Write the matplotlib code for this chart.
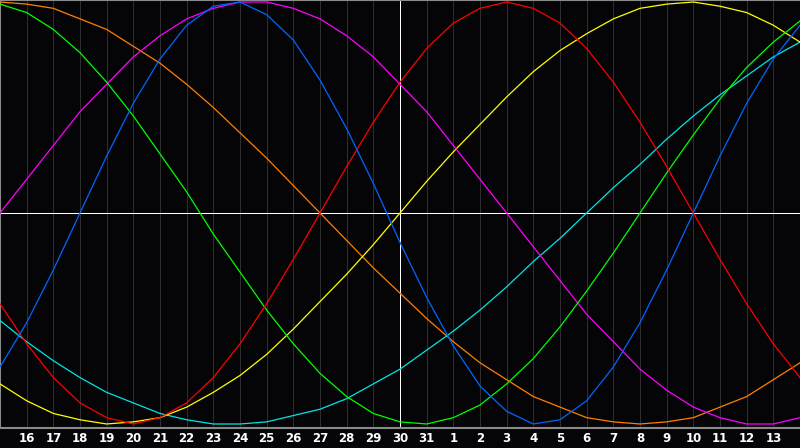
import matplotlib
matplotlib.use("Agg")
import matplotlib.pyplot as plt

# day labels along the bottom (day 30 sits in the middle)
days = [15, 16, 17, 18, 19, 20, 21, 22, 23, 24, 25, 26, 27, 28, 29, 30, 31,
        1, 2, 3, 4, 5, 6, 7, 8, 9, 10, 11, 12, 13, 14]

# daily values of each cycle (-1 .. 1)
blue = [-0.73, -0.52, -0.27, 0.0, 0.27, 0.52, 0.73, 0.89, 0.98, 1.0, 0.94,
        0.82, 0.63, 0.40, 0.14, -0.14, -0.40, -0.63, -0.82, -0.94, -1.0,
        -0.98, -0.89, -0.73, -0.52, -0.27, 0.0, 0.27, 0.52, 0.73, 0.89]
red = [-0.43, -0.62, -0.78, -0.90, -0.97, -1.0, -0.97, -0.90, -0.78, -0.62,
       -0.43, -0.22, 0.0, 0.22, 0.43, 0.62, 0.78, 0.90, 0.97, 1.0, 0.97,
       0.90, 0.78, 0.62, 0.43, 0.22, 0.0, -0.22, -0.43, -0.62, -0.78]
green = [0.99, 0.95, 0.87, 0.76, 0.62, 0.46, 0.28, 0.10, -0.10, -0.28, -0.46,
         -0.62, -0.76, -0.87, -0.95, -0.99, -1.0, -0.97, -0.91, -0.81, -0.69,
         -0.54, -0.37, -0.19, 0.0, 0.19, 0.37, 0.54, 0.69, 0.81, 0.91]
magenta = [0.0, 0.16, 0.32, 0.48, 0.61, 0.74, 0.84, 0.92, 0.97, 1.0, 1.0,
           0.97, 0.92, 0.84, 0.74, 0.61, 0.48, 0.32, 0.16, 0.0, -0.16, -0.32,
           -0.48, -0.61, -0.74, -0.84, -0.92, -0.97, -1.0, -1.0, -0.97]
yellow = [-0.81, -0.89, -0.95, -0.98, -1.0, -0.99, -0.97, -0.92, -0.85, -0.77,
          -0.67, -0.55, -0.42, -0.29, -0.15, 0.0, 0.15, 0.29, 0.42, 0.55, 0.67,
          0.77, 0.85, 0.92, 0.97, 0.99, 1.0, 0.98, 0.95, 0.89, 0.81]
orange = [1.0, 0.99, 0.97, 0.92, 0.87, 0.79, 0.71, 0.61, 0.50, 0.38, 0.26,
          0.13, 0.0, -0.13, -0.26, -0.38, -0.50, -0.61, -0.71, -0.79, -0.87,
          -0.92, -0.97, -0.99, -1.0, -0.99, -0.97, -0.92, -0.87, -0.79, -0.71]
cyan = [-0.51, -0.61, -0.70, -0.78, -0.85, -0.90, -0.95, -0.98, -1.0, -1.0,
        -0.99, -0.96, -0.93, -0.88, -0.81, -0.74, -0.65, -0.56, -0.46, -0.35,
        -0.23, -0.12, 0.0, 0.12, 0.23, 0.35, 0.46, 0.56, 0.65, 0.74, 0.81]

series = [
    (orange, "#ff7f00"),
    (cyan, "#00e5e5"),
    (yellow, "#ffff00"),
    (magenta, "#ff00ff"),
    (green, "#00ff00"),
    (red, "#ff0000"),
    (blue, "#0066ff"),
]

x = list(range(-15, 16))
px = 0.72  # one pixel at 100 dpi

fig = plt.figure(figsize=(8, 4.48), dpi=100, facecolor="#050508")
ax = fig.add_axes([0, 20 / 448, 1, 428 / 448])
ax.set_facecolor("#050508")

# day grid
for xi in x:
    ax.axvline(xi, color="#2e2e2e", lw=px, zorder=1, antialiased=False)
ax.axvline(0, color="white", lw=px, zorder=2, antialiased=False)
ax.axhline(0, color="white", lw=px, zorder=2, antialiased=False)

for vals, col in series:
    ax.plot(x, vals, color=col, lw=0.9, zorder=3)

ax.set_xlim(-15, 15)
ax.set_ylim(-1.019, 1.0095)
ax.set_yticks([])
ax.set_xticks(x[1:-1])
ax.set_xticklabels([str(d) for d in days[1:-1]], color="white",
                   fontsize=8.5, fontweight="bold", family="DejaVu Sans")
ax.tick_params(axis="x", length=0, pad=3)

for side in ["left", "top", "bottom"]:
    ax.spines[side].set_color("#8a8a8a")
    ax.spines[side].set_linewidth(1.5)
ax.spines["right"].set_visible(False)

fig.savefig("out.png", dpi=100, facecolor=fig.get_facecolor())
